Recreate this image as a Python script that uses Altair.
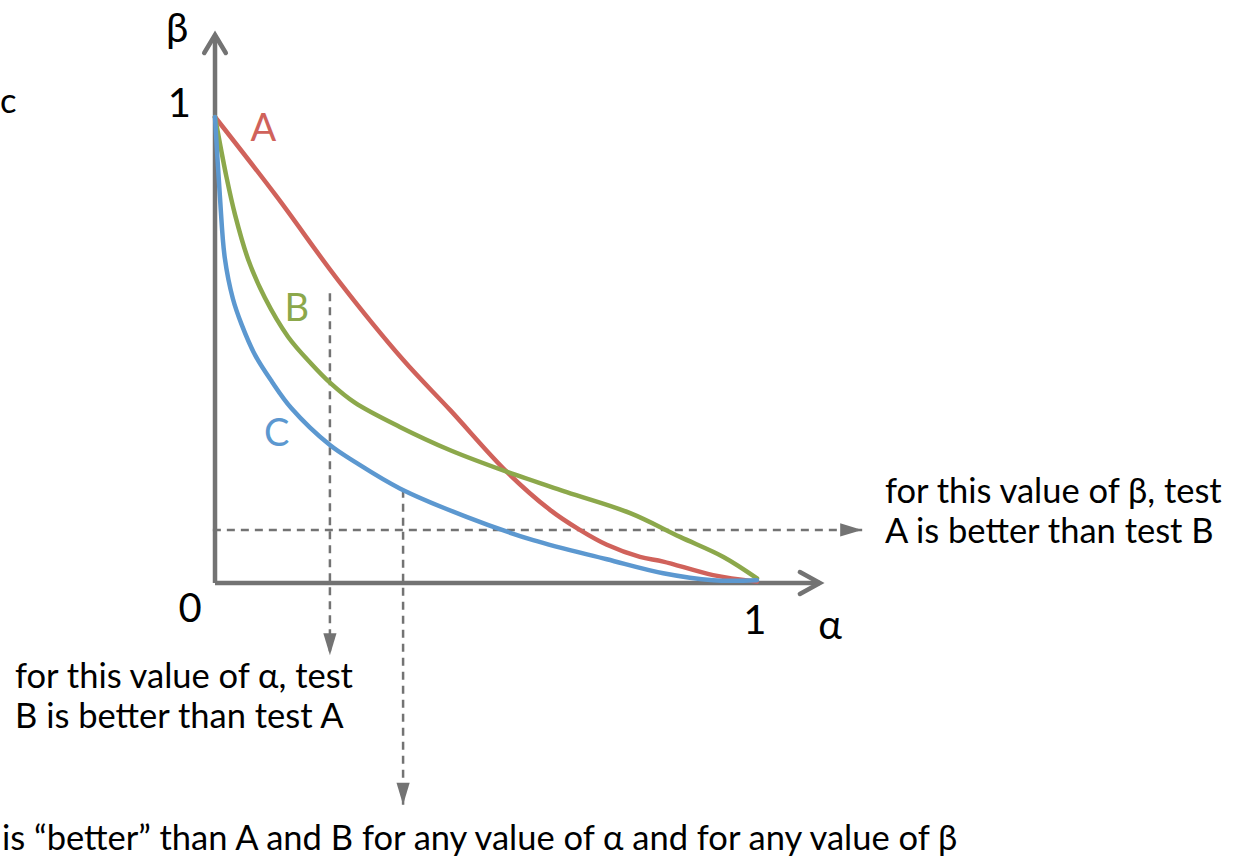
import altair as alt
import pandas as pd

# ---- curve data (alpha, beta) ----
a_A = [0.0, 0.114, 0.227, 0.347, 0.434, 0.538, 0.618, 0.673, 0.723, 0.784, 0.827, 0.919, 1.0]
b_A = [1.0, 0.829, 0.650, 0.479, 0.371, 0.239, 0.157, 0.114, 0.082, 0.056, 0.046, 0.017, 0.003]

a_B = [0.0, 0.021, 0.037, 0.061, 0.092, 0.135, 0.178, 0.212, 0.258, 0.341, 0.434, 0.538, 0.649, 0.766, 0.858, 0.938, 1.0]
b_B = [1.0, 0.872, 0.790, 0.695, 0.612, 0.528, 0.470, 0.430, 0.387, 0.335, 0.285, 0.239, 0.195, 0.150, 0.099, 0.056, 0.010]

a_C = [0.0, 0.009, 0.018, 0.033, 0.049, 0.074, 0.105, 0.141, 0.212, 0.258, 0.341, 0.464, 0.587, 0.723, 0.827, 0.919, 1.0]
b_C = [1.0, 0.830, 0.698, 0.610, 0.555, 0.489, 0.432, 0.375, 0.296, 0.260, 0.203, 0.142, 0.092, 0.051, 0.021, 0.006, 0.006]

curve_names = ["A", "B", "C"]
curve_colors = ["#D0625B", "#8CA84B", "#5C98D0"]
axis_gray = "#737373"

# dashed guide lines: (a, b) start -> (a2, b2) tip
guide_a = [0.212, 0.347, -0.004]
guide_b = [0.622, 0.200, 0.114]
guide_a2 = [0.212, 0.347, 1.194]
guide_b2 = [-0.155, -0.476, 0.114]

# axis extents
axis_len_x = 1.116
axis_len_y = 1.176

# labels
lab_text = ["β", "1", "0", "1", "α", "A", "B", "C"]
lab_a = [-0.070, -0.066, -0.046, 0.996, 1.135, 0.089, 0.151, 0.114]
lab_b = [1.187, 1.026, -0.058, -0.084, -0.094, 0.972, 0.586, 0.318]
lab_color = ["black", "black", "black", "black", "black", curve_colors[0], curve_colors[1], curve_colors[2]]
lab_size = [40, 40, 40, 40, 40, 38, 38, 38]

note_text = ["for this value of β, test", "A is better than test B",
             "for this value of α, test", "B is better than test A",
             "is “better” than A and B for any value of α and for any value of β", "c"]
note_a = [1.236, 1.236, -0.369, -0.369, -0.393, -0.3967]
note_b = [0.193, 0.107, -0.204, -0.290, -0.552, 1.03]

FONT = "Lato"

XS = alt.Scale(domain=[-0.3967, 1.8782], nice=False, zero=False)
YS = alt.Scale(domain=[-0.5944, 1.2511], nice=False, zero=False)

rows = []
for name, xs, ys in zip(curve_names, [a_A, a_B, a_C], [b_A, b_B, b_C]):
    for i, (x, y) in enumerate(zip(xs, ys)):
        rows.append({"curve": name, "a": x, "b": y, "i": i})
curves_df = pd.DataFrame(rows)

curves = alt.Chart(curves_df).mark_line(
    interpolate="catmull-rom", strokeWidth=4.5, strokeCap="round", strokeJoin="round"
).encode(
    x=alt.X("a:Q", scale=XS, axis=None),
    y=alt.Y("b:Q", scale=YS, axis=None),
    color=alt.Color("curve:N", scale=alt.Scale(domain=curve_names, range=curve_colors), legend=None),
    order="i:Q",
    detail="curve:N",
)

axes_df = pd.DataFrame({"a": [0.0, 0.0], "b": [0.0, 0.0], "a2": [axis_len_x, 0.0], "b2": [0.0, axis_len_y]})
axes = alt.Chart(axes_df).mark_rule(color=axis_gray, strokeWidth=4.5).encode(
    x=alt.X("a:Q", scale=XS, axis=None), x2="a2:Q",
    y=alt.Y("b:Q", scale=YS, axis=None), y2="b2:Q",
)

tipx = alt.Chart(pd.DataFrame({"a": [axis_len_x], "b": [0.0]})).mark_point(
    shape="M-1,-0.55 L0,0 L-1,0.55", size=1600, filled=False, color=axis_gray,
    strokeWidth=4.5, strokeCap="round", strokeJoin="miter", opacity=1,
).encode(x=alt.X("a:Q", scale=XS, axis=None), y=alt.Y("b:Q", scale=YS, axis=None))

tipy = alt.Chart(pd.DataFrame({"a": [0.0], "b": [axis_len_y]})).mark_point(
    shape="M-0.6,1 L0,0 L0.6,1", size=1296, filled=False, color=axis_gray,
    strokeWidth=4.5, strokeCap="round", strokeJoin="miter", opacity=1,
).encode(x=alt.X("a:Q", scale=XS, axis=None), y=alt.Y("b:Q", scale=YS, axis=None))

guides_df = pd.DataFrame({"a": guide_a, "b": guide_b, "a2": guide_a2, "b2": guide_b2})
guides = alt.Chart(guides_df).mark_rule(color=axis_gray, strokeWidth=2.5, strokeDash=[8, 6]).encode(
    x=alt.X("a:Q", scale=XS, axis=None), x2="a2:Q",
    y=alt.Y("b:Q", scale=YS, axis=None), y2="b2:Q",
)

down_df = pd.DataFrame({"a": guide_a2[:2], "b": guide_b2[:2]})
tri_down = alt.Chart(down_df).mark_point(
    shape="M-0.3,-1 L0.3,-1 L0,0 Z", size=1936, filled=True, color=axis_gray, opacity=1,
).encode(x=alt.X("a:Q", scale=XS, axis=None), y=alt.Y("b:Q", scale=YS, axis=None))

right_df = pd.DataFrame({"a": guide_a2[2:], "b": guide_b2[2:]})
tri_right = alt.Chart(right_df).mark_point(
    shape="M-1,-0.3 L0,0 L-1,0.3 Z", size=1936, filled=True, color=axis_gray, opacity=1,
).encode(x=alt.X("a:Q", scale=XS, axis=None), y=alt.Y("b:Q", scale=YS, axis=None))

labels_df = pd.DataFrame({"t": lab_text, "a": lab_a, "b": lab_b, "c": lab_color, "s": lab_size})
labels = alt.Chart(labels_df).mark_text(font=FONT, align="center", baseline="middle").encode(
    x=alt.X("a:Q", scale=XS, axis=None), y=alt.Y("b:Q", scale=YS, axis=None),
    text="t:N", color=alt.Color("c:N", scale=None), size=alt.Size("s:Q", scale=None),
)

notes_df = pd.DataFrame({"t": note_text, "a": note_a, "b": note_b})
notes = alt.Chart(notes_df).mark_text(font=FONT, align="left", baseline="middle", fontSize=34.5, color="black").encode(
    x=alt.X("a:Q", scale=XS, axis=None), y=alt.Y("b:Q", scale=YS, axis=None),
    text="t:N",
)

chart = alt.layer(guides, tri_down, tri_right, axes, tipx, tipy, curves, labels, notes).properties(
    width=1233, height=860, padding=0, autosize="none", background="white"
).configure_view(stroke=None)

chart.save("out.html", embed_options={"renderer": "svg", "actions": False})
